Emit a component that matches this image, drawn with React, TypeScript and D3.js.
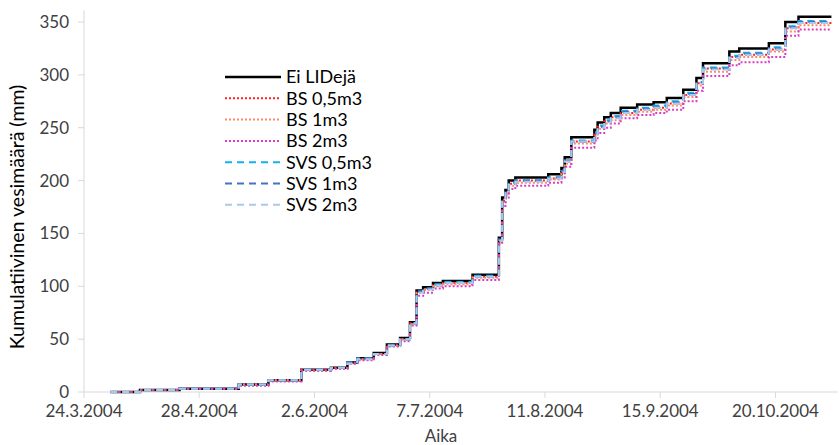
import React from "react";
import * as d3 from "d3";

const stepDates = [
  "2004-04-01","2004-04-10","2004-04-22","2004-05-10","2004-05-19","2004-05-29","2004-06-07","2004-06-12",
  "2004-06-15","2004-06-20","2004-06-24","2004-06-28","2004-07-01","2004-07-03","2004-07-05","2004-07-08",
  "2004-07-11","2004-07-20","2004-07-28","2004-07-29","2004-07-30","2004-07-31","2004-08-02","2004-08-12",
  "2004-08-16","2004-08-17","2004-08-19","2004-08-26","2004-08-27","2004-08-29","2004-08-31","2004-09-03",
  "2004-09-08","2004-09-13","2004-09-17","2004-09-22","2004-09-26","2004-09-28","2004-10-06","2004-10-09",
  "2004-10-18","2004-10-23","2004-10-27","2004-11-06"
];

const eiLIDeja = [0,2,3,7,11,21,23,28,32,37,45,51,66,96,99,103,105,111,146,184,191,200,203,206,212,222,241,248,255,260,264,269,272,274,278,286,297,311,322,325,330,350,355,355];
const bs05 = [0,2,3,7,11,21,23,27,31,36,44,50,65,94,97,101,103,109,144,181,188,197,200,202,208,218,237,244,251,256,260,264,267,269,273,281,292,306,317,319,324,344,349,349];
const bs1 = [0,2,3,7,11,20,22,27,31,36,44,50,64,94,97,100,102,108,142,179,186,195,198,201,207,216,235,242,249,254,257,262,265,267,271,279,290,303,314,317,322,341,347,347];
const bs2 = [0,2,3,6,10,20,22,27,30,35,43,48,63,91,94,98,100,106,140,176,183,192,195,198,203,213,231,238,245,250,254,259,262,264,267,275,285,299,309,312,317,337,343,343];
const svs05 = [0,2,3,7,11,21,23,28,32,36,44,50,65,95,98,102,104,110,144,182,189,198,200,203,209,219,238,245,252,257,261,266,269,271,275,283,293,307,318,321,326,346,351,351];
const svs1 = [0,2,3,7,11,21,23,28,32,36,44,50,65,95,98,101,103,109,144,181,188,197,200,203,209,219,237,244,251,256,260,265,268,270,274,282,293,306,317,320,325,345,350,350];
const svs2 = [0,2,3,7,11,21,23,27,31,36,44,50,65,94,97,101,103,109,143,181,188,196,199,202,208,218,237,244,250,255,259,264,267,269,273,281,292,305,316,319,324,344,349,349];

const seriesNames = ["Ei LIDejä","BS 0,5m3","BS 1m3","BS 2m3","SVS 0,5m3","SVS 1m3","SVS 2m3"];
const seriesValues = [eiLIDeja, bs05, bs1, bs2, svs05, svs1, svs2];
const seriesColors = ["#000000","#FF2020","#FF8A65","#D93FC6","#12B0EE","#4472C4","#A9C9EC"];
const seriesDash = ["", "2,2", "2,2", "2,2", "7,5", "7,5", "7,5"];
const seriesWidth = [2.5, 2, 2, 2, 2, 2, 2];

const xTickLabels = ["24.3.2004","28.4.2004","2.6.2004","7.7.2004","11.8.2004","15.9.2004","20.10.2004"];
const yTicks = [0,50,100,150,200,250,300,350];

const parse = d3.timeParse("%Y-%m-%d");
const parseTick = d3.timeParse("%d.%m.%Y");

export default function App() {
  const W = 839, H = 445;
  const x = d3.scaleTime().domain([parse("2004-03-24")!, parse("2004-11-08")!]).range([84, 838]);
  const y = d3.scaleLinear().domain([0, 350]).range([392, 22]);
  const line = d3.line<[Date, number]>().x(d => x(d[0])).y(d => y(d[1])).curve(d3.curveStepAfter);
  const dates = stepDates.map(s => parse(s)!);
  const font = "Lato, 'Open Sans', sans-serif";
  const axisColor = "#D9D9D9";
  const textColor = "#404040";

  return (
    <svg width={W} height={H} style={{ position: "absolute", left: 0, top: 0, background: "#fff" }}>
      {/* axes */}
      <line x1={84} x2={84} y1={y(361)} y2={392} stroke={axisColor} strokeWidth={1} />
      <line x1={84} x2={838} y1={392} y2={392} stroke={axisColor} strokeWidth={1} />
      {yTicks.map(t => (
        <g key={t}>
          <line x1={78} x2={84} y1={y(t)} y2={y(t)} stroke={axisColor} />
          <text x={69} y={y(t)} dy="0.35em" textAnchor="end" fontFamily={font} fontSize={17} fill={textColor}>{t}</text>
        </g>
      ))}
      {xTickLabels.map(l => {
        const xv = x(parseTick(l)!);
        return (
          <g key={l}>
            <line x1={xv} x2={xv} y1={392} y2={398} stroke={axisColor} />
            <text x={xv} y={417} textAnchor="middle" fontFamily={font} fontSize={17} fill={textColor}>{l}</text>
          </g>
        );
      })}
      <text x={441} y={442} textAnchor="middle" fontFamily={font} fontSize={17} fill={textColor}>Aika</text>
      <text transform={`translate(24,217) rotate(-90)`} textAnchor="middle" fontFamily={font} fontSize={19.5} fill="#000">Kumulatiivinen vesimäärä (mm)</text>

      {/* series */}
      {seriesValues.map((vals, i) => (
        <path key={seriesNames[i]}
          d={line(dates.map((d, j) => [d, vals[j]] as [Date, number])) || ""}
          fill="none" stroke={seriesColors[i]} strokeWidth={seriesWidth[i]}
          strokeDasharray={seriesDash[i] || undefined} />
      ))}

      {/* legend */}
      {seriesNames.map((n, i) => {
        const ly = 77 + i * 21.3;
        return (
          <g key={n}>
            <line x1={225} x2={281} y1={ly} y2={ly} stroke={seriesColors[i]} strokeWidth={seriesWidth[i]}
              strokeDasharray={seriesDash[i] || undefined} />
            <text x={286} y={ly} dy="0.35em" fontFamily={font} fontSize={18} fill="#000">{n}</text>
          </g>
        );
      })}
    </svg>
  );
}
